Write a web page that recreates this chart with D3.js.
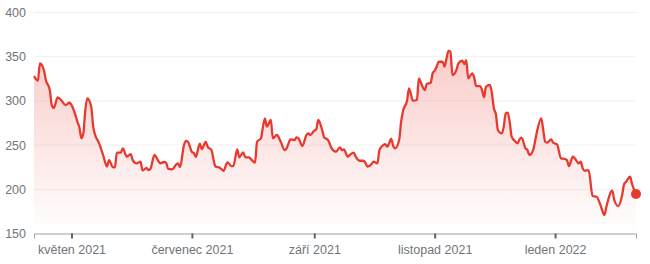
<!DOCTYPE html>
<html>
<head>
<meta charset="utf-8">
<script src="https://cdn.jsdelivr.net/npm/d3@7"></script>
<style>
  body { margin: 0; background: #fff; }
  svg { display: block; font-family: Roboto, "Noto Sans", Arial, sans-serif; }
  .grid line { stroke: #f1f1f1; }
  .axis-y text, .axis-x text { fill: #70757a; font-size: 12.5px; }
</style>
</head>
<body>
<div id="chart"></div>
<script>
// Kurz akcie
var dates = [
  "2021-04-12","2021-04-14","2021-04-15","2021-04-17","2021-04-18","2021-04-20","2021-04-21","2021-04-22","2021-04-24","2021-04-26",
  "2021-04-28","2021-04-30","2021-05-01","2021-05-03","2021-05-04","2021-05-05","2021-05-06","2021-05-07","2021-05-08","2021-05-09",
  "2021-05-11","2021-05-12","2021-05-13","2021-05-15","2021-05-17","2021-05-19","2021-05-20","2021-05-22","2021-05-23","2021-05-24",
  "2021-05-26","2021-05-27","2021-05-29","2021-05-31","2021-06-01","2021-06-03","2021-06-05","2021-06-06","2021-06-08","2021-06-09",
  "2021-06-10","2021-06-12","2021-06-14","2021-06-15","2021-06-17","2021-06-18","2021-06-19","2021-06-21","2021-06-23","2021-06-24",
  "2021-06-25","2021-06-27","2021-06-28","2021-06-29","2021-07-01","2021-07-02","2021-07-03","2021-07-05","2021-07-06","2021-07-08",
  "2021-07-09","2021-07-11","2021-07-12","2021-07-13","2021-07-15","2021-07-17","2021-07-19","2021-07-21","2021-07-22","2021-07-24",
  "2021-07-25","2021-07-27","2021-07-28","2021-07-30","2021-07-31","2021-08-02","2021-08-03","2021-08-05","2021-08-06","2021-08-07",
  "2021-08-08","2021-08-10","2021-08-11","2021-08-13","2021-08-15","2021-08-17","2021-08-18","2021-08-20","2021-08-22","2021-08-23",
  "2021-08-24","2021-08-26","2021-08-28","2021-08-29","2021-08-30","2021-09-01","2021-09-02","2021-09-03","2021-09-05","2021-09-06",
  "2021-09-08","2021-09-10","2021-09-12","2021-09-14","2021-09-15","2021-09-16","2021-09-18","2021-09-19","2021-09-21","2021-09-22",
  "2021-09-24","2021-09-26","2021-09-27","2021-09-28","2021-09-30","2021-10-01","2021-10-03","2021-10-04","2021-10-06","2021-10-07",
  "2021-10-08","2021-10-10","2021-10-11","2021-10-12","2021-10-14","2021-10-15","2021-10-16","2021-10-18","2021-10-19","2021-10-21",
  "2021-10-23","2021-10-24","2021-10-25","2021-10-27","2021-10-28","2021-10-30","2021-10-31","2021-11-01","2021-11-02","2021-11-03",
  "2021-11-05","2021-11-06","2021-11-07","2021-11-08","2021-11-09","2021-11-10","2021-11-12","2021-11-13","2021-11-15","2021-11-16",
  "2021-11-17","2021-11-18","2021-11-20","2021-11-21","2021-11-22","2021-11-24","2021-11-25","2021-11-26","2021-11-27","2021-11-29",
  "2021-11-30","2021-12-01","2021-12-02","2021-12-03","2021-12-05","2021-12-06","2021-12-07","2021-12-08","2021-12-09","2021-12-10",
  "2021-12-12","2021-12-13","2021-12-14","2021-12-15","2021-12-17","2021-12-18","2021-12-19","2021-12-21","2021-12-22","2021-12-23",
  "2021-12-25","2021-12-26","2021-12-27","2021-12-28","2021-12-30","2021-12-31","2022-01-02","2022-01-04","2022-01-06","2022-01-07",
  "2022-01-08","2022-01-10","2022-01-11","2022-01-13","2022-01-14","2022-01-15","2022-01-16","2022-01-18","2022-01-20","2022-01-22",
  "2022-01-24","2022-01-26","2022-01-27","2022-01-30","2022-01-31","2022-02-02","2022-02-04","2022-02-05","2022-02-06","2022-02-08",
  "2022-02-09","2022-02-11"
];
var prices = [
  328, 323, 342.5, 335, 323.6, 312.3, 295.3, 292, 304, 300.2,
  295.3, 297.9, 295.3, 284, 276.4, 269.9, 257.7, 263.3, 289.7, 302.9,
  293.4, 270.8, 261.4, 252, 238.8, 225.6, 233.1, 224.9, 224.9, 241.6,
  241.6, 246.4, 236.9, 239.9, 233.1, 229.4, 231.2, 221.3, 224.1, 221.8,
  223.2, 238.8, 232, 229.4, 230.9, 229.7, 223, 222.6, 228, 229.2,
  225.2, 250.1, 254.8, 253.8, 242.2, 241, 236.5, 251.7, 245.6, 253.5,
  248.2, 243.9, 233.1, 225.6, 224.6, 221, 230.5, 226.3, 226.3, 245.2,
  236.2, 241.8, 236.2, 236.2, 233.9, 230.1, 253.8, 257.7, 270.8, 280.3,
  270.8, 278.4, 257.7, 261.4, 253.8, 244.4, 246.4, 256.5, 255.7, 258.8,
  257.7, 249, 261.4, 263.3, 261.4, 266.3, 267.9, 278.4, 267.1, 258.8,
  255.7, 245.6, 242.5, 247.5, 244.4, 245.2, 236.9, 238.8, 241.4, 236.9,
  232.3, 232.3, 229.4, 225.6, 228.6, 231.2, 229.4, 244.4, 250.1, 251.2,
  248.2, 256.9, 249, 246.4, 255.7, 276.4, 288.9, 300.2, 314.2, 300.2,
  301, 325.5, 320.6, 312.3, 319.1, 320.6, 331.5, 334.1, 338.7, 344.3,
  344.3, 338.7, 348.2, 356.7, 355.6, 329.3, 334.9, 342.5, 345.4, 341.7,
  346.2, 325.5, 331.2, 326.7, 316.8, 316.8, 312.3, 304, 316, 318,
  308.6, 291.6, 285.2, 267.1, 263.3, 270.8, 286, 286.6, 276.4, 259.5,
  253.8, 252, 256.5, 258.3, 246.4, 244.4, 238.8, 245.2, 255.7, 267.1,
  280.3, 267.1, 253.8, 252.7, 256.5, 252.7, 250.9, 235, 234.3, 233.1,
  226.3, 236.9, 235, 229.4, 231.2, 223.7, 221, 221.8, 192.4, 191.6,
  182.2, 170.9, 180.3, 198.4, 187.9, 181.1, 193.5, 206, 208.6, 214.2,
  206, 194.7
];
var yTicks = [150, 200, 250, 300, 350, 400];
var xTickDates = ["2021-05-01", "2021-07-01", "2021-09-01", "2021-11-01", "2022-01-01"];
var xTickLabels = ["květen 2021", "červenec 2021", "září 2021", "listopad 2021", "leden 2022"];

var parseDate = d3.timeParse("%Y-%m-%d");
var data = dates.map(function (d, i) { return { date: parseDate(d), value: prices[i] }; });

var width = 650, height = 264;
var margin = { top: 12.5, right: 14, bottom: 30.5, left: 34 };

var svg = d3.select("#chart")
  .append("svg")
  .attr("width", width)
  .attr("height", height);

var x = d3.scaleTime()
  .domain(d3.extent(data, function (d) { return d.date; }))
  .range([margin.left, width - margin.right]);

var y = d3.scaleLinear()
  .domain([150, 400])
  .range([height - margin.bottom, margin.top]);

// mřížka
svg.append("g")
  .attr("class", "grid")
  .selectAll("line")
  .data(yTicks.slice(1))
  .enter()
  .append("line")
  .attr("x1", margin.left)
  .attr("x2", width - margin.right)
  .attr("y1", function (d) { return y(d); })
  .attr("y2", function (d) { return y(d); });

// osa Y
var yAxis = svg.append("g")
  .attr("class", "axis-y")
  .attr("transform", "translate(" + (margin.left - 8) + ",0)")
  .call(d3.axisLeft(y).tickValues(yTicks).tickSize(0).tickPadding(0));
yAxis.select(".domain").remove();

// přechod pod čárou
var defs = svg.append("defs");
var grad = defs.append("linearGradient")
  .attr("id", "fillGrad")
  .attr("gradientUnits", "userSpaceOnUse")
  .attr("x1", 0).attr("x2", 0)
  .attr("y1", y(d3.max(prices)))
  .attr("y2", y(150));
grad.append("stop").attr("offset", "0%").attr("stop-color", "#e8392f").attr("stop-opacity", 0.26);
grad.append("stop").attr("offset", "100%").attr("stop-color", "#e8392f").attr("stop-opacity", 0);

var area = d3.area()
  .x(function (d) { return x(d.date); })
  .y0(y(150))
  .y1(function (d) { return y(d.value); })
  .curve(d3.curveMonotoneX);

svg.append("path")
  .datum(data)
  .attr("d", area)
  .attr("fill", "url(#fillGrad)");

// osa X
var xAxis = svg.append("g")
  .attr("class", "axis-x")
  .attr("transform", "translate(0," + y(150) + ")")
  .call(d3.axisBottom(x)
    .tickValues(xTickDates.map(parseDate))
    .tickFormat(function (d, i) { return xTickLabels[i]; })
    .tickSizeOuter(0)
    .tickSize(5)
    .tickPadding(7));
xAxis.select(".domain").attr("stroke", "#9aa0a6");
xAxis.selectAll(".tick line").attr("stroke", "#5f6368").attr("stroke-width", 2);

// čára
var line = d3.line()
  .x(function (d) { return x(d.date); })
  .y(function (d) { return y(d.value); })
  .curve(d3.curveMonotoneX);

svg.append("path")
  .datum(data)
  .attr("d", line)
  .attr("fill", "none")
  .attr("stroke", "#e8392f")
  .attr("stroke-width", 2.3)
  .attr("stroke-linejoin", "round");

var last = data[data.length - 1];
svg.append("circle")
  .attr("cx", x(last.date))
  .attr("cy", y(last.value))
  .attr("r", 5)
  .attr("fill", "#e8392f");
</script>
</body>
</html>
